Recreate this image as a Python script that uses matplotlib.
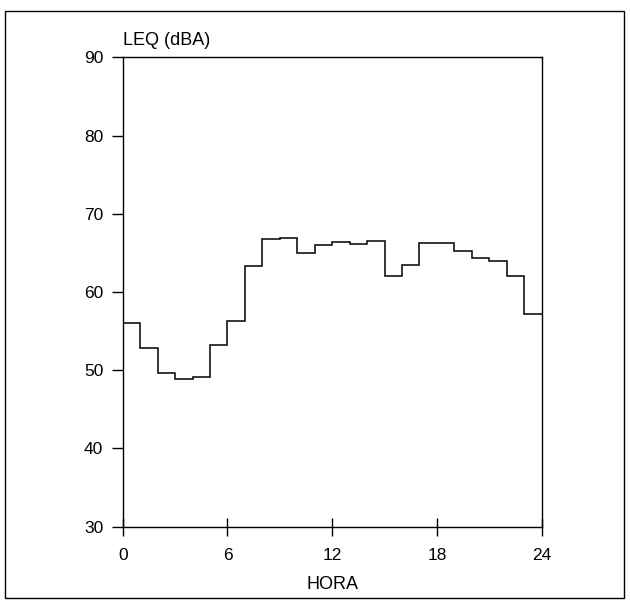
import matplotlib
matplotlib.use('Agg')
import matplotlib.pyplot as plt
from matplotlib.patches import Rectangle

plt.rcParams['font.family'] = ['Liberation Sans', 'DejaVu Sans']

# hourly LEQ values (dBA), hour 0..23
hours = list(range(25))
leq = [56.0, 52.9, 49.6, 48.9, 49.1, 53.2, 56.3, 63.3, 66.8, 66.9,
       65.0, 66.0, 66.4, 66.1, 66.5, 62.0, 63.5, 66.2, 66.2, 65.3,
       64.4, 64.0, 62.0, 57.2]
xticks = [0, 6, 12, 18, 24]
yticks = [30, 40, 50, 60, 70, 80, 90]

fig = plt.figure(figsize=(6.3, 6.03), dpi=100)
ax = fig.add_axes([0.1948, 0.1265, 0.665, 0.7785])

ax.stairs(leq, hours, baseline=None, color='black', linewidth=1.1)

ax.set_xlim(0, 24)
ax.set_ylim(30, 90)
ax.set_xticks(xticks)
ax.set_yticks(yticks)
ax.tick_params(axis='y', direction='out', length=8, width=1, labelsize=12.5, pad=6)
ax.tick_params(axis='x', direction='inout', length=13, width=1, labelsize=12.5, pad=9)
for s in ax.spines.values():
    s.set_linewidth(1)

ax.set_xlabel('HORA', fontsize=13, labelpad=9)
ax.annotate('LEQ (dBA)', xy=(0, 1), xycoords='axes fraction', xytext=(0, 9),
            textcoords='offset points', fontsize=13, ha='left', va='baseline')

# outer frame
fig.patches.append(Rectangle((5/630, 5/603), 619/630, 587/603, transform=fig.transFigure,
                             fill=False, edgecolor='black', linewidth=1))

fig.savefig('out.png', dpi=100)
